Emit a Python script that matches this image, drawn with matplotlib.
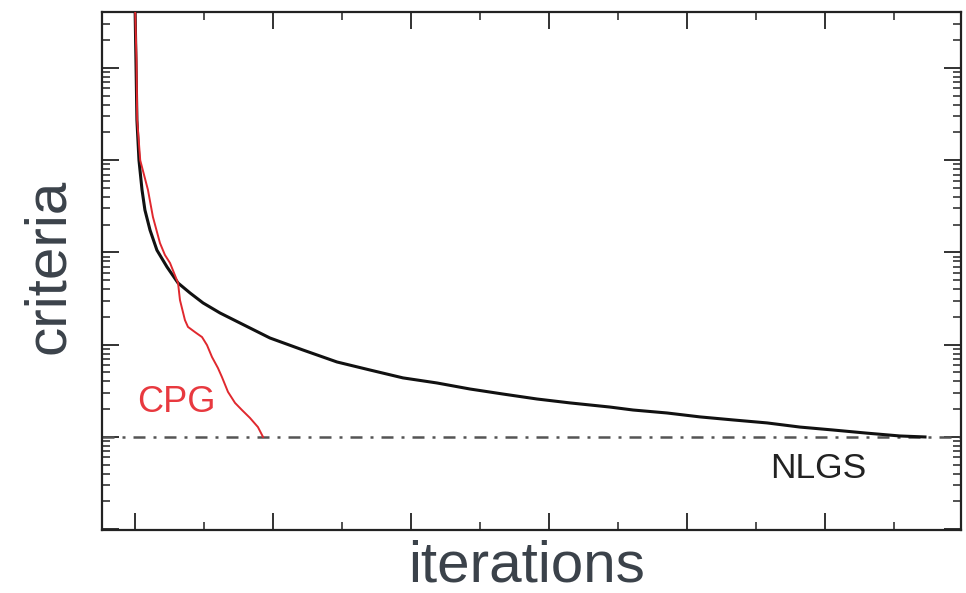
import numpy as np
import matplotlib
matplotlib.use("Agg")
import matplotlib.pyplot as plt
from matplotlib.ticker import LogLocator, MultipleLocator, NullFormatter

# NLGS (black) convergence curve
nlgs_iter = [0, 7, 14, 29, 51, 72, 109, 159, 232, 312, 399, 493, 616, 761, 978, 1217,
             1464, 1703, 1942, 2188, 2428, 2667, 2913, 3152, 3442, 3609, 3855, 4094,
             4333, 4580, 4819, 5058, 5304, 5543, 5725]
nlgs_crit = [5.0, 1.22, 0.273, 0.10, 0.0477, 0.0289, 0.0175, 0.0106, 0.00697, 0.00467,
             0.00364, 0.00284, 0.00221, 0.00172, 0.001183, 0.000877, 0.000650, 0.000532,
             0.000437, 0.000385, 0.000331, 0.000292, 0.000258, 0.000234, 0.000211,
             0.000196, 0.000182, 0.000165, 0.000153, 0.000142, 0.000128, 0.000119,
             0.000110, 0.0001025, 0.0001]

# CPG (red) convergence curve
cpg_iter = [0, 11, 16, 38, 94, 130, 181, 217, 254, 312, 326, 362, 384, 435, 486, 522,
            558, 601, 630, 674, 725, 775, 833, 891, 928]
cpg_crit = [5.0, 1.22, 0.273, 0.10, 0.0477, 0.0243, 0.01267, 0.0094, 0.00769, 0.00467,
            0.00305, 0.00185, 0.00156, 0.00137, 0.00121, 0.00099, 0.000736, 0.00056,
            0.000447, 0.000308, 0.000234, 0.000196, 0.000161, 0.000128, 0.0001]

tolerance = 1e-4
label_cpg = "CPG"
label_nlgs = "NLGS"
xlabel = "iterations"
ylabel = "criteria"

plt.rcParams['font.family'] = ['Liberation Sans', 'DejaVu Sans']

fig = plt.figure(figsize=(9.66, 5.93), dpi=100)
ax = fig.add_axes([102/966, 1-530/593, (961-102)/966, (530-12)/593])

ax.plot(nlgs_iter, nlgs_crit, color='#111111', lw=2.2, zorder=3,
        solid_joinstyle='round')
ax.plot(cpg_iter, cpg_crit, color='#e0282e', lw=1.4, zorder=4)
ax.axhline(tolerance, color='#555555', lw=1.8, linestyle=(0, (4.8, 3.2, 1.2, 3.2)), zorder=2)

ax.set_yscale('log')
ax.set_xlim(-239, 5986)
ax.set_ylim(9.8e-6, 4.05)

ax.yaxis.set_major_locator(LogLocator(base=10, numticks=20))
ax.yaxis.set_minor_locator(LogLocator(base=10, subs=np.arange(2, 10), numticks=20))
ax.yaxis.set_major_formatter(NullFormatter())
ax.yaxis.set_minor_formatter(NullFormatter())
ax.xaxis.set_major_locator(MultipleLocator(1000))
ax.xaxis.set_minor_locator(MultipleLocator(500))
ax.xaxis.set_major_formatter(NullFormatter())
ax.xaxis.set_minor_formatter(NullFormatter())
ax.tick_params(which='both', direction='in', top=True, right=True, color='#222222')
ax.tick_params(which='major', length=12, width=1.3)
ax.tick_params(which='minor', length=5.5, width=1.1)
for s in ax.spines.values():
    s.set_linewidth(1.6)
    s.set_color('#222222')

ax.text(14, 1.87e-4, label_cpg, color='#e8393f', fontsize=26, ha='left', va='baseline')
ax.text(4601, 3.6e-5, label_nlgs, color='#222222', fontsize=25.5, ha='left', va='baseline')

label_color = '#3b424a'
fig.text(527/966, 1-582/593, xlabel, fontsize=42, color=label_color,
         ha='center', va='baseline')
fig.text(64/966, 1-266/593, ylabel, fontsize=42, color=label_color, rotation=90,
         rotation_mode='anchor', ha='center', va='baseline')

fig.savefig('out.png', dpi=100)
